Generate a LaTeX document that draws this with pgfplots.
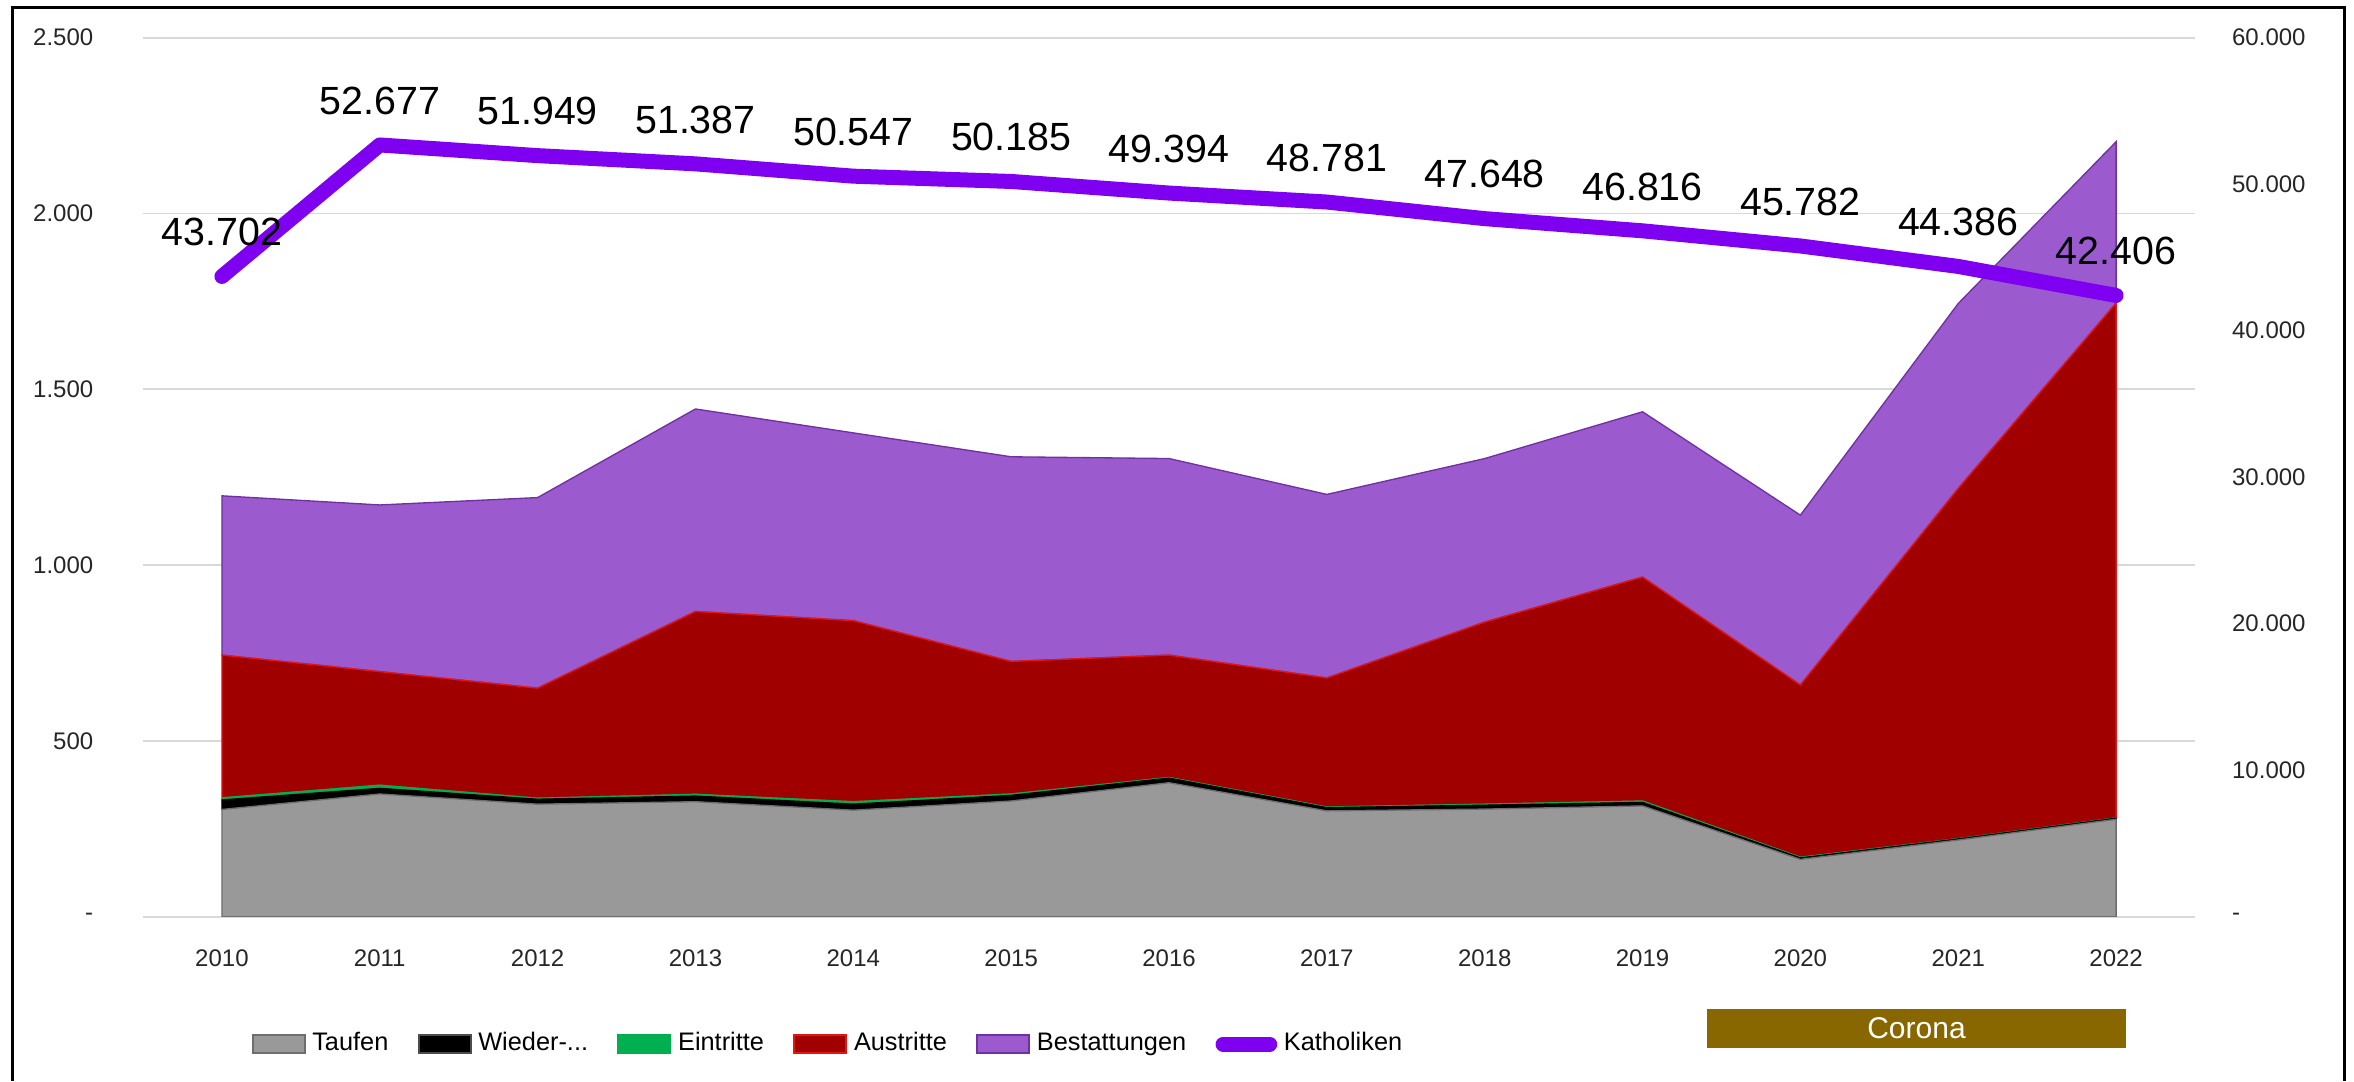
\documentclass[border=0pt]{standalone}
\usepackage{fontspec}
\setmainfont{Liberation Sans}
\usepackage{pgfplots}
\pgfplotsset{compat=1.18}
\usepackage{pgfplotstable}

\definecolor{taufen}{RGB}{153,153,153}
\definecolor{taufenedge}{RGB}{110,110,110}
\definecolor{eintritte}{RGB}{0,176,80}
\definecolor{austritte}{RGB}{160,0,0}
\definecolor{austritteedge}{RGB}{230,20,20}
\definecolor{bestatt}{RGB}{155,91,206}
\definecolor{bestattedge}{RGB}{112,48,160}
\definecolor{kath}{RGB}{127,0,240}
\definecolor{corona}{RGB}{136,102,0}
\definecolor{gridc}{RGB}{217,217,217}

\pgfplotsset{
  arealeg/.style={legend image code/.code={\draw[##1] (0pt,-2.6pt) rectangle (15.6pt,2.6pt);}},
  lineleg/.style={legend image code/.code={\draw[##1] (1.5pt,0pt) -- (15.5pt,0pt);}},
}

\pgfplotstableread{
x T W E A B K
0 305 27 6 406 453 43702
1 349 16 9 323 474 52677
2 320 14 3 313 542 51949
3 327 16 5 520 576 51387
4 303 17 7 515 534 50547
5 329 16 4 377 582 50185
6 381 13 2 348 559 49394
7 301 9 2 367 522 48781
8 306 11 3 518 465 47648
9 315 10 4 637 470 46816
10 163 4 2 490 483 45782
11 218 3 1 996 526 44386
12 277 3 1 1464 459 42406
}\datatable

\begin{document}
\begin{tikzpicture}
\path[use as bounding box] (0pt,0pt) rectangle (706.2pt,-324.3pt);
\draw[line width=0.9pt] (3.6pt,-324.3pt) -- (3.6pt,-2.1pt) -- (703.2pt,-2.1pt) -- (703.2pt,-324.3pt);

\begin{axis}[
  at={(42.9pt,-275.0pt)}, anchor=south west,
  width=615.6pt, height=263.7pt, scale only axis,
  xmin=-0.5, xmax=12.5, ymin=0, ymax=2500,
  axis line style={draw=none},
  major tick length=0pt,
  scaled y ticks=false,
  xtick={0,...,12},
  xticklabels={2010,2011,2012,2013,2014,2015,2016,2017,2018,2019,2020,2021,2022},
  ytick={0,500,1000,1500,2000,2500},
  yticklabels={-\hspace{0.4em},500,1.000,1.500,2.000,2.500},
  ytick pos=left, xtick pos=bottom,
  ymajorgrids, grid style={gridc, line width=0.5pt},
  tick label style={font=\fontsize{7.2}{8.6}\selectfont, text=black!85},
  yticklabel style={xshift=-11.4pt},
  xticklabel style={yshift=-6.4pt},
  stack plots=y,
  area style,
  axis on top=false,
]
\addplot[fill=taufen, draw=taufenedge, line width=0.4pt] table[x=x,y=T]{\datatable} \closedcycle;
\addplot[fill=black, draw=black, line width=0.4pt] table[x=x,y=W]{\datatable} \closedcycle;
\addplot[fill=eintritte, draw=eintritte, line width=0.4pt] table[x=x,y=E]{\datatable} \closedcycle;
\addplot[fill=austritte, draw=austritteedge, line width=0.4pt] table[x=x,y=A]{\datatable} \closedcycle;
\addplot[fill=bestatt, draw=bestattedge, line width=0.4pt] table[x=x,y=B]{\datatable} \closedcycle;
\end{axis}

\begin{axis}[
  at={(42.9pt,-275.0pt)}, anchor=south west,
  width=615.6pt, height=263.7pt, scale only axis,
  xmin=-0.5, xmax=12.5, ymin=0, ymax=60000,
  axis x line=none,
  axis y line*=right,
  axis line style={draw=none},
  major tick length=0pt,
  scaled y ticks=false,
  ytick={0,10000,20000,30000,40000,50000,60000},
  yticklabels={-,10.000,20.000,30.000,40.000,50.000,60.000},
  tick label style={font=\fontsize{7.2}{8.6}\selectfont, text=black!85},
  yticklabel style={xshift=7.6pt},
  clip=false,
  /pgf/number format/1000 sep={.},
  /pgf/number format/assume math mode=true,
  legend columns=6,
  legend cell align=left,
  legend style={draw=none, fill=none, inner sep=0pt, at={(0.0526,-0.145)}, anchor=west,
    font=\fontsize{7.6}{9}\selectfont,
    /tikz/every even column/.append style={column sep=6.8pt}},
]
\addlegendimage{arealeg, fill=taufen, draw=taufenedge, line width=0.6pt}
\addlegendentry{Taufen}
\addlegendimage{arealeg, fill=black, draw=black!70, line width=0.6pt}
\addlegendentry{Wieder-...}
\addlegendimage{arealeg, fill=eintritte, draw=eintritte, line width=0.6pt}
\addlegendentry{Eintritte}
\addlegendimage{arealeg, fill=austritte, draw=austritteedge, line width=0.6pt}
\addlegendentry{Austritte}
\addlegendimage{arealeg, fill=bestatt, draw=bestattedge, line width=0.6pt}
\addlegendentry{Bestattungen}
\addplot[kath, line width=4.5pt, line cap=round, line join=round,
  lineleg,
  nodes near coords, point meta=y,
  every node near coord/.append style={font=\fontsize{11.8}{14}\selectfont, text=black, anchor=south, yshift=3.5pt}]
  table[x=x,y=K]{\datatable};
\addlegendentry{Katholiken}
\end{axis}

\node[fill=corona, text=white, minimum width=125.7pt, minimum height=11.7pt, inner sep=0pt,
  font=\fontsize{9}{10.8}\selectfont] at (574.95pt,-308.55pt) {Corona};
\end{tikzpicture}
\end{document}
